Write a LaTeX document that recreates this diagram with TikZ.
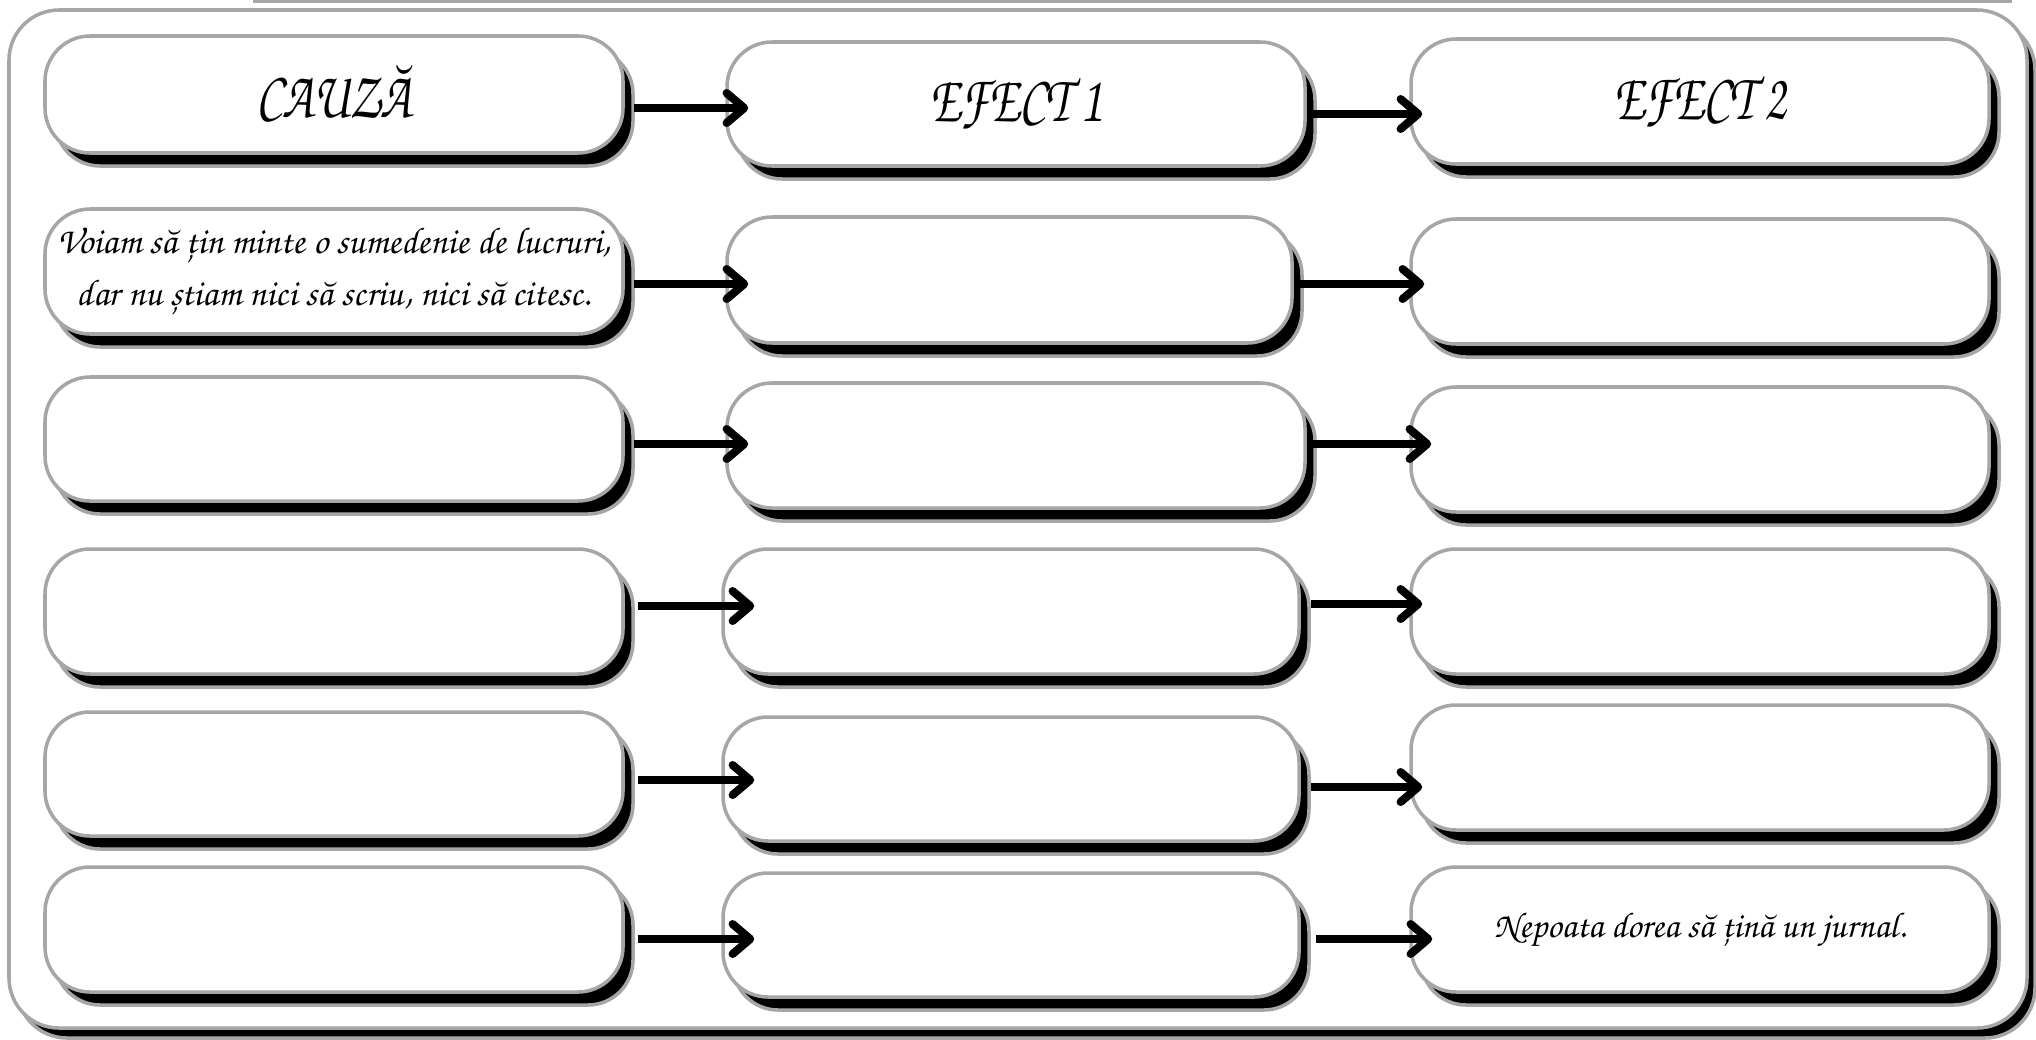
\documentclass[tikz,border=0pt]{standalone}
\usepackage{fontspec}
\newfontfamily\chorus{TeX Gyre Chorus}
\usetikzlibrary{arrows.meta,shadows,calc}
\definecolor{edge}{HTML}{A6A6A6}
\newcommand\cellbox[7][]{\node[cell,#1, minimum width={(#4-#2)*0.01cm}, minimum height={(#5-#3)*0.01cm}] (#6) at ({(#2+#4)/2},{(#3+#5)/2}) {#7};}
\newcommand\headtxt[1]{\raisebox{2pt}{\scalebox{0.74}[1]{#1}}}
\begin{document}
\begin{tikzpicture}[x=0.01cm,y=-0.01cm,
  cell/.style={draw=edge, line width=1pt, fill=white, rounded corners=0.45cm, inner sep=0pt, align=center,
    font=\chorus\fontsize{10.6}{14.8}\selectfont,
    general shadow={fill=black, draw=edge, line width=1pt, shadow xshift=0.1cm, shadow yshift=-0.13cm}},
  head/.style={font=\chorus\fontsize{19}{23}\selectfont},
  arr/.style={line width=2.3pt, -{Straight Barb[length=5pt,width=8.5pt,round]}}]
\useasboundingbox (0,0) rectangle (2036,1039);
% outer frame
\path[draw=edge, line width=1pt, fill=white, rounded corners=0.5cm,
  general shadow={fill=black, draw=edge, line width=1pt, shadow xshift=0.08cm, shadow yshift=-0.1cm}]
  (9,10) rectangle (2027,1028);
\draw[edge, line width=0.9pt] (253,1) -- (2012,1);
% row 0
\cellbox[head]{45}{36}{623}{153}{a0}{\headtxt{CAUZĂ}}
\cellbox[head]{727}{42}{1305}{166}{b0}{\headtxt{EFECT 1}}
\cellbox[head]{1411}{39}{1989}{164}{c0}{\headtxt{EFECT 2}}
% row 1
\cellbox{45}{209}{623}{334}{a1}{Voiam să țin minte o sumedenie de lucruri,\\dar nu știam nici să scriu, nici să citesc.}
\cellbox{727}{217}{1292}{343}{b1}{}
\cellbox{1411}{219}{1989}{344}{c1}{}
% row 2
\cellbox{45}{377}{623}{501}{a2}{}
\cellbox{727}{383}{1305}{508}{b2}{}
\cellbox{1411}{387}{1989}{512}{c2}{}
% row 3
\cellbox{45}{549}{623}{674}{a3}{}
\cellbox{723}{549}{1299}{674}{b3}{}
\cellbox{1411}{549}{1989}{674}{c3}{}
% row 4
\cellbox{45}{712}{623}{836}{a4}{}
\cellbox{723}{717}{1299}{841}{b4}{}
\cellbox{1411}{705}{1989}{830}{c4}{}
% row 5
\cellbox{45}{867}{623}{992}{a5}{}
\cellbox{723}{873}{1299}{997}{b5}{}
\cellbox[font=\chorus\fontsize{10.2}{14}\selectfont]{1411}{867}{1989}{992}{c5}{Nepoata dorea să țină un jurnal.}
% arrows
\draw[arr] ($(a0.east |- 0,108)+(9,0)$) -- ($(b0.west |- 0,108)+(23,0)$);
\draw[arr] ($(b0.east |- 0,114)+(4,0)$) -- ($(c0.west |- 0,114)+(13,0)$);
\draw[arr] ($(a1.east |- 0,284)+(9,0)$) -- ($(b1.west |- 0,284)+(23,0)$);
\draw[arr] ($(b1.east |- 0,284)+(6,0)$) -- ($(c1.west |- 0,284)+(15,0)$);
\draw[arr] ($(a2.east |- 0,444)+(9,0)$) -- ($(b2.west |- 0,444)+(23,0)$);
\draw[arr] ($(b2.east |- 0,444)+(6,0)$) -- ($(c2.west |- 0,444)+(22,0)$);
\draw[arr] ($(a3.east |- 0,606)+(13,0)$) -- ($(b3.west |- 0,606)+(33,0)$);
\draw[arr] ($(b3.east |- 0,604)+(10,0)$) -- ($(c3.west |- 0,604)+(13,0)$);
\draw[arr] ($(a4.east |- 0,780)+(13,0)$) -- ($(b4.west |- 0,780)+(33,0)$);
\draw[arr] ($(b4.east |- 0,787)+(10,0)$) -- ($(c4.west |- 0,787)+(13,0)$);
\draw[arr] ($(a5.east |- 0,939)+(13,0)$) -- ($(b5.west |- 0,939)+(33,0)$);
\draw[arr] ($(b5.east |- 0,939)+(15,0)$) -- ($(c5.west |- 0,939)+(23,0)$);
\end{tikzpicture}
\end{document}
